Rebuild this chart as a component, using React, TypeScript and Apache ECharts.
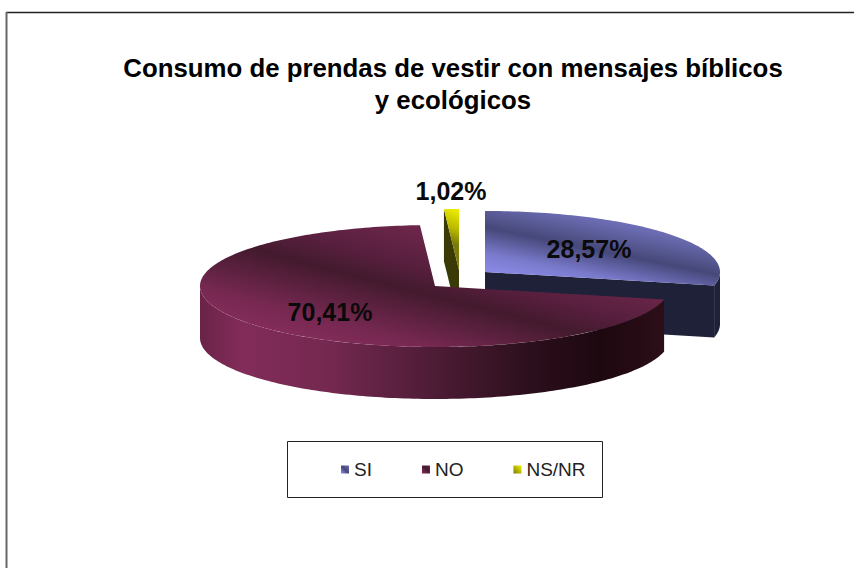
import React, { useEffect, useRef } from "react";
import * as echarts from "echarts";

const categories = ["SI", "NO", "NS/NR"];
const values = [28.57, 70.41, 1.02];
const titleLines = ["Consumo de prendas de vestir con mensajes bíblicos", "y ecológicos"];

const FONT = '"Liberation Sans", Arial, sans-serif';
const RX = 235;
const RY = 61;
const DEPTH = 52;
const centers: [number, number][] = [[485, 272], [435, 286], [459, 270]];
const labelPos: [number, number][] = [[589, 249], [330, 312], [451, 191]];
const drawZ = [2, 3, 1];

const total = values.reduce((a, b) => a + b, 0);
const grad = (x1: number, y1: number, x2: number, y2: number, stops: [number, string][]) =>
  new echarts.graphic.LinearGradient(x1, y1, x2, y2, stops.map(([offset, color]) => ({ offset, color })), true);

const topFill = [
  grad(478, 272, 499, 169, [[0, "#8c8cea"], [0.19, "#7a7acc"], [0.43, "#46487a"], [0.54, "#55578f"], [0.71, "#6c6cb4"], [1, "#7878c8"]]),
  grad(324, 355, 360, 215, [[0, "#8a2e5e"], [0.24, "#762851"], [0.586, "#431a2e"], [0.76, "#581f3e"], [1, "#6c2649"]]),
  grad(458, 208, 445, 240, [[0, "#f2f200"], [0.6, "#b8b800"], [1, "#7a7a08"]]),
];
const wallFill = [
  "#1e2138",
  grad(200, 0, 664, 0, [[0, "#6a2348"], [0.09, "#822c5a"], [0.28, "#742850"], [0.5, "#4e1c36"], [0.71, "#2c0f1c"], [0.86, "#1e0810"], [1, "#2c0e18"]]),
  "#3a3a06",
];
const faceFill = ["#1e2138", "#2a0e1c", "#3a3a06"];
const legendFill = [
  new echarts.graphic.LinearGradient(0, 1, 1, 0, [{ offset: 0, color: "#8d8dea" }, { offset: 0.5, color: "#46487a" }, { offset: 1, color: "#7070bc" }]),
  new echarts.graphic.LinearGradient(0, 1, 1, 0, [{ offset: 0, color: "#852c5a" }, { offset: 0.6, color: "#451a30" }, { offset: 1, color: "#642446" }]),
  new echarts.graphic.LinearGradient(0, 1, 1, 0, [{ offset: 0, color: "#7a7a08" }, { offset: 0.5, color: "#b8b800" }, { offset: 1, color: "#f2f200" }]),
];

const fmt = (v: number) => v.toFixed(2).replace(".", ",") + "%";

function arc(cx: number, cy: number, a0: number, a1: number): number[][] {
  const pts: number[][] = [];
  const n = Math.max(2, Math.ceil((a1 - a0) / 0.02));
  for (let i = 0; i <= n; i++) {
    const a = a0 + ((a1 - a0) * i) / n;
    pts.push([cx + RX * Math.sin(a), cy - RY * Math.cos(a)]);
  }
  return pts;
}

function renderSlice(i: number) {
  return () => {
    const before = values.slice(0, i).reduce((a, b) => a + b, 0);
    const a0 = (before / total) * Math.PI * 2;
    const a1 = ((before + values[i]) / total) * Math.PI * 2;
    const [cx, cy] = centers[i];
    const children: any[] = [];
    const poly = (points: number[][], fill: any) =>
      children.push({ type: "polygon", shape: { points }, style: { fill, stroke: "none" } });

    // radial walls that face the viewer
    const drop = (p: number[]) => [p[0], p[1] + DEPTH];
    const apex = [cx, cy];
    const endPt = arc(cx, cy, a1, a1 + 0.001)[0];
    const startPt = arc(cx, cy, a0, a0 + 0.001)[0];
    if (Math.cos(a1) < 0.99 && Math.sin(a1) > 0) {
      poly([apex, endPt, drop(endPt), drop(apex)], faceFill[i]);
    }
    if (i === 2) {
      poly([apex, startPt, drop(startPt), drop(apex)], faceFill[i]);
    }
    // outer wall: only the front half of the ellipse is visible
    const w0 = Math.max(a0, Math.PI / 2);
    const w1 = Math.min(a1, (3 * Math.PI) / 2);
    if (w1 > w0) {
      const rim = arc(cx, cy, w0, w1);
      poly([...rim, ...rim.slice().reverse().map(drop)], wallFill[i]);
    }
    // top face
    poly([apex, ...arc(cx, cy, a0, a1)], topFill[i]);
    children.push({
      type: "text",
      style: {
        x: labelPos[i][0],
        y: labelPos[i][1],
        text: fmt(values[i]),
        align: "center",
        verticalAlign: "middle",
        font: `bold 25px ${FONT}`,
        fill: "#0a0a0a",
      },
    });
    return { type: "group", children };
  };
}

export default function App() {
  const ref = useRef<HTMLDivElement>(null);
  useEffect(() => {
    document.body.style.margin = "0";
    const chart = echarts.init(ref.current!, undefined, { renderer: "svg" });
    chart.setOption({
      animation: false,
      backgroundColor: "#fff",
      title: {
        text: titleLines.join("\n"),
        left: 448,
        top: 47,
        textAlign: "center",
        textStyle: { fontFamily: FONT, fontWeight: "bold", fontSize: 25.8, lineHeight: 32, color: "#000" },
      },
      legend: {
        data: categories,
        left: 336,
        top: 455,
        padding: 5,
        itemWidth: 8,
        itemHeight: 8,
        itemGap: 50,
        icon: "rect",
        textStyle: { fontFamily: FONT, fontSize: 19, color: "#222" },
      },
      graphic: [
        { type: "line", shape: { x1: 6, y1: 12.5, x2: 854, y2: 12.5 }, style: { stroke: "#222", lineWidth: 1.5 } },
        { type: "line", shape: { x1: 6.5, y1: 12, x2: 6.5, y2: 568 }, style: { stroke: "#666", lineWidth: 2 } },
        { type: "rect", shape: { x: 287.5, y: 441.5, width: 315, height: 56 }, style: { fill: "none", stroke: "#222", lineWidth: 1 } },
      ],
      series: categories.map((name, i) => ({
        type: "custom",
        name,
        coordinateSystem: "none",
        z: drawZ[i],
        silent: true,
        itemStyle: { color: legendFill[i] },
        data: [[values[i]]],
        renderItem: renderSlice(i),
      })),
    });
    return () => chart.dispose();
  }, []);
  return <div ref={ref} style={{ position: "absolute", left: 0, top: 0, width: 854, height: 568 }} />;
}
